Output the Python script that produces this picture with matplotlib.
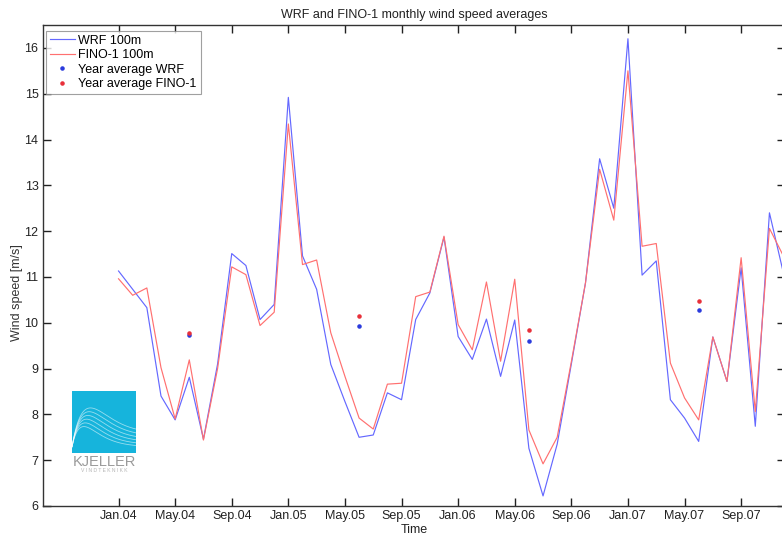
import numpy as np
import matplotlib
matplotlib.use("Agg")
import matplotlib.pyplot as plt
from matplotlib.patches import Rectangle

plt.rcParams['font.family'] = ['Liberation Sans', 'DejaVu Sans']

# ---- data (monthly means, Jan 2004 onward) ----
wrf = [11.13, 10.73, 10.33, 8.40, 7.88, 8.81, 7.46, 9.10, 11.51, 11.25, 10.07, 10.40,
       14.92, 11.46, 10.73, 9.09, 8.28, 7.50, 7.55, 8.47, 8.32, 10.07, 10.65, 11.87,
       9.70, 9.20, 10.08, 8.83, 10.06, 7.26, 6.22, 7.35, 9.10, 10.87, 13.58, 12.50,
       16.20, 11.04, 11.35, 8.32, 7.92, 7.41, 9.69, 8.72, 11.20, 7.74, 12.40, 11.07]
fino = [10.96, 10.60, 10.76, 9.02, 7.90, 9.19, 7.44, 9.00, 11.22, 11.05, 9.94, 10.23,
        14.34, 11.27, 11.37, 9.78, 8.83, 7.92, 7.68, 8.66, 8.68, 10.57, 10.67, 11.89,
        9.96, 9.41, 10.89, 9.16, 10.95, 7.66, 6.92, 7.50, 9.15, 10.87, 13.35, 12.24,
        15.50, 11.67, 11.73, 9.12, 8.36, 7.88, 9.69, 8.72, 11.42, 8.06, 12.06, 11.45]
years = [2004, 2005, 2006, 2007]
year_avg_wrf = [9.74, 9.92, 9.60, 10.27]
year_avg_fino = [9.77, 10.14, 9.84, 10.47]
tick_labels = ['Jan.04', 'May.04', 'Sep.04', 'Jan.05', 'May.05', 'Sep.05',
               'Jan.06', 'May.06', 'Sep.06', 'Jan.07', 'May.07', 'Sep.07']

months = np.arange(len(wrf))          # 0 = Jan 2004
avg_x = [(y - 2004) * 12 + 5 for y in years]   # plotted at June of each year
tick_x = np.arange(len(tick_labels)) * 4

W, H = 782, 538
fig = plt.figure(figsize=(W / 100, H / 100), dpi=100)
fig.patch.set_facecolor('white')
ax_l, ax_r, ax_t, ax_b = 42.7, 785.0, 25.0, 506.0
ax = fig.add_axes([ax_l / W, 1 - ax_b / H, (ax_r - ax_l) / W, (ax_b - ax_t) / H])

blue = '#6468ff'
red = '#ff7070'
ax.plot(months, wrf, color=blue, lw=0.85, label='WRF 100m', zorder=3)
ax.plot(months, fino, color=red, lw=0.85, label='FINO-1 100m', zorder=3)
ax.plot(avg_x, year_avg_wrf, ls='none', marker='.', ms=4.5, color='#2b3bdd',
        label='Year average WRF', zorder=4)
ax.plot(avg_x, year_avg_fino, ls='none', marker='.', ms=4.5, color='#e8303a',
        label='Year average FINO-1', zorder=4)

ax.set_xlim(-5.36, 47.1)
ax.set_ylim(6, 16.5)
ax.set_yticks(np.arange(6, 17, 1))
ax.set_xticks(tick_x)
ax.set_xticklabels(tick_labels)
ax.tick_params(direction='in', top=True, right=True, length=5.5, width=1.0,
               labelsize=9, colors='#222222', pad=3)
for s in ax.spines.values():
    s.set_color('#333333')
    s.set_linewidth(1.0)

ax.set_title('WRF and FINO-1 monthly wind speed averages', fontsize=9, pad=5, color='#222222')
ax.set_xlabel('Time', fontsize=9, labelpad=1, color='#222222')
ax.set_ylabel('Wind speed [m/s]', fontsize=9, color='#333333')
ax.yaxis.set_label_coords(-0.027, (ax_b - 293) / (ax_b - ax_t))

leg = ax.legend(loc='upper left', bbox_to_anchor=(3.3 / (ax_r - ax_l), 1 - 6 / (ax_b - ax_t)),
                borderaxespad=0, fontsize=9, frameon=True, fancybox=False,
                edgecolor='#888888', handlelength=2.0, handletextpad=0.3,
                labelspacing=0.2, borderpad=0.3, numpoints=1)
leg.get_frame().set_linewidth(0.8)

# ---- Kjeller Vindteknikk logo (decoration) ----
lx0, lx1, ly0, ly1 = 72, 136, 391, 453
lax = fig.add_axes([lx0 / W, 1 - ly1 / H, (lx1 - lx0) / W, (ly1 - ly0) / H])
lax.set_xlim(0, 1)
lax.set_ylim(0, 1)
lax.axis('off')
lax.add_patch(Rectangle((0, 0), 1, 1, color='#16b4dc', zorder=0))
t = np.linspace(0, 1, 200)
for i in range(6):
    x0 = 0.2 + 0.02 * i
    amp = 0.35 + 0.06 * i
    yy = 0.1 + 0.03 * i * t + amp * (t / x0) * np.exp(1 - t / x0) * (1 - 0.35 * t)
    lax.plot(t, yy, color='white', lw=0.6, alpha=0.55)
fig.text((lx0 + lx1) / 2 / W, 1 - 462 / H, 'KJELLER', fontsize=10.5, color='#9a9a9a',
         ha='center', va='center')
fig.text((lx0 + lx1) / 2 / W, 1 - 471 / H, 'V I N D T E K N I K K', fontsize=3.6,
         color='#b5b5b5', ha='center', va='center')

fig.savefig('out.png', dpi=100)
